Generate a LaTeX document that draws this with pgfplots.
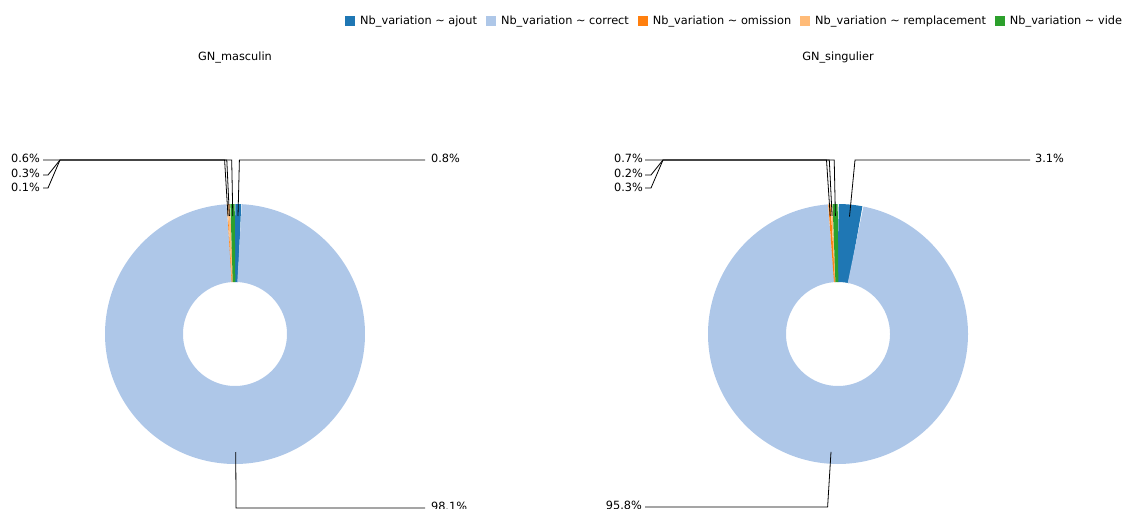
\documentclass[border=0pt]{standalone}
\usepackage{pgfplots}
\pgfplotsset{compat=1.18}
\usepackage{fontspec}
\setmainfont{DejaVu Sans}
\definecolor{cA}{HTML}{1F77B4}
\definecolor{cC}{HTML}{AEC7E8}
\definecolor{cO}{HTML}{FF7F0E}
\definecolor{cR}{HTML}{FFBB78}
\definecolor{cV}{HTML}{2CA02C}
% #1 centre x, #2 start angle, #3 end angle, #4 style, #5 samples
\newcommand\slice[5]{\addplot[#4, line width=58.5pt, domain=#2:#3, samples=#5] ({#1+91*sin(x)},{174+91*cos(x)});}
\begin{document}
\begin{tikzpicture}
\fontsize{8.5pt}{10pt}\selectfont
% GN_masculin: ajout, correct, omission, remplacement, vide (percent)
\pgfmathsetmacro\LT{0.8+98.1+0.1+0.3+0.6}
\pgfmathsetmacro\La{0.8/\LT*360}
\pgfmathsetmacro\Lb{\La+98.1/\LT*360}
\pgfmathsetmacro\Lc{\Lb+0.1/\LT*360}
\pgfmathsetmacro\Ld{\Lc+0.3/\LT*360}
% GN_singulier
\pgfmathsetmacro\RT{3.1+95.8+0.3+0.2+0.7}
\pgfmathsetmacro\Ra{3.1/\RT*360}
\pgfmathsetmacro\Rb{\Ra+95.8/\RT*360}
\pgfmathsetmacro\Rc{\Rb+0.3/\RT*360}
\pgfmathsetmacro\Rd{\Rc+0.2/\RT*360}
\begin{axis}[
  x=0.75pt, y=0.75pt, xmin=0, xmax=1125, ymin=0, ymax=508,
  scale only axis, hide axis, clip=true,
  legend columns=5,
  legend image code/.code={\fill[draw=none, line width=0pt] (0pt,-3.75pt) rectangle (7.5pt,3.75pt);},
  legend style={at={(1.003,0.9587)}, anchor=east, draw=none, fill=none,
    font=\fontsize{8.5pt}{10pt}\selectfont,
    nodes={inner sep=1.5pt},
    /tikz/every odd column/.append style={column sep=2.5pt},
    /tikz/every even column/.append style={column sep=5pt}},
]
% left donut
\slice{235}{0}{\La}{cA}{4}
\addlegendentry{Nb\_variation \textasciitilde{} ajout}
\slice{235}{\La}{\Lb}{cC}{360}
\addlegendentry{Nb\_variation \textasciitilde{} correct}
\slice{235}{\Lb}{\Lc}{cO}{2}
\addlegendentry{Nb\_variation \textasciitilde{} omission}
\slice{235}{\Lc}{\Ld}{cR}{3}
\addlegendentry{Nb\_variation \textasciitilde{} remplacement}
\slice{235}{\Ld}{360}{cV}{4}
\addlegendentry{Nb\_variation \textasciitilde{} vide}
% right donut
\slice{838}{0}{\Ra}{cA,forget plot}{6}
\slice{838}{\Ra}{\Rb}{cC,forget plot}{360}
\slice{838}{\Rb}{\Rc}{cO,forget plot}{3}
\slice{838}{\Rc}{\Rd}{cR,forget plot}{2}
\slice{838}{\Rd}{360}{cV,forget plot}{4}
% leader lines left
\addplot[black, line width=0.6pt, forget plot] coordinates {(238.0,292) (239.4,348) (425,348)};
\addplot[black, line width=0.6pt, forget plot] coordinates {(235.7,56) (236.1,0) (425,0)};
\addplot[black, line width=0.6pt, forget plot] coordinates {(232.8,292) (231.7,348) (60,348) (43,348)};
\addplot[black, line width=0.6pt, forget plot] coordinates {(229.4,292) (226.8,348) (60,348) (48,333) (43,333)};
\addplot[black, line width=0.6pt, forget plot] coordinates {(228.0,292) (224.6,348) (60,348) (48,320) (43,320)};
% leader lines right
\addplot[black, line width=0.6pt, forget plot] coordinates {(849.5,291.4) (855,348) (1030,348)};
\addplot[black, line width=0.6pt, forget plot] coordinates {(831.0,56.2) (827.6,1) (645,1)};
\addplot[black, line width=0.6pt, forget plot] coordinates {(835.4,292) (834.2,348) (663,348) (645,348)};
\addplot[black, line width=0.6pt, forget plot] coordinates {(832.1,292) (829.3,348) (663,348) (651,333) (645,333)};
\addplot[black, line width=0.6pt, forget plot] coordinates {(830.2,292) (826.5,348) (663,348) (651,320) (645,320)};
% labels
\node[anchor=west] at (axis cs:427,350) {0.8\%};
\node[anchor=west] at (axis cs:427,2) {98.1\%};
\node[anchor=east] at (axis cs:44,350) {0.6\%};
\node[anchor=east] at (axis cs:44,335) {0.3\%};
\node[anchor=east] at (axis cs:44,321) {0.1\%};
\node[anchor=west] at (axis cs:1031,350) {3.1\%};
\node[anchor=east] at (axis cs:646,3) {95.8\%};
\node[anchor=east] at (axis cs:647,350) {0.7\%};
\node[anchor=east] at (axis cs:647,335) {0.2\%};
\node[anchor=east] at (axis cs:647,321) {0.3\%};
% titles
\node at (axis cs:235,450) {GN\_masculin};
\node at (axis cs:838,450) {GN\_singulier};
\end{axis}
\pgfresetboundingbox
\path[use as bounding box] (current axis.south west) rectangle (current axis.north east);
\end{tikzpicture}
\end{document}
